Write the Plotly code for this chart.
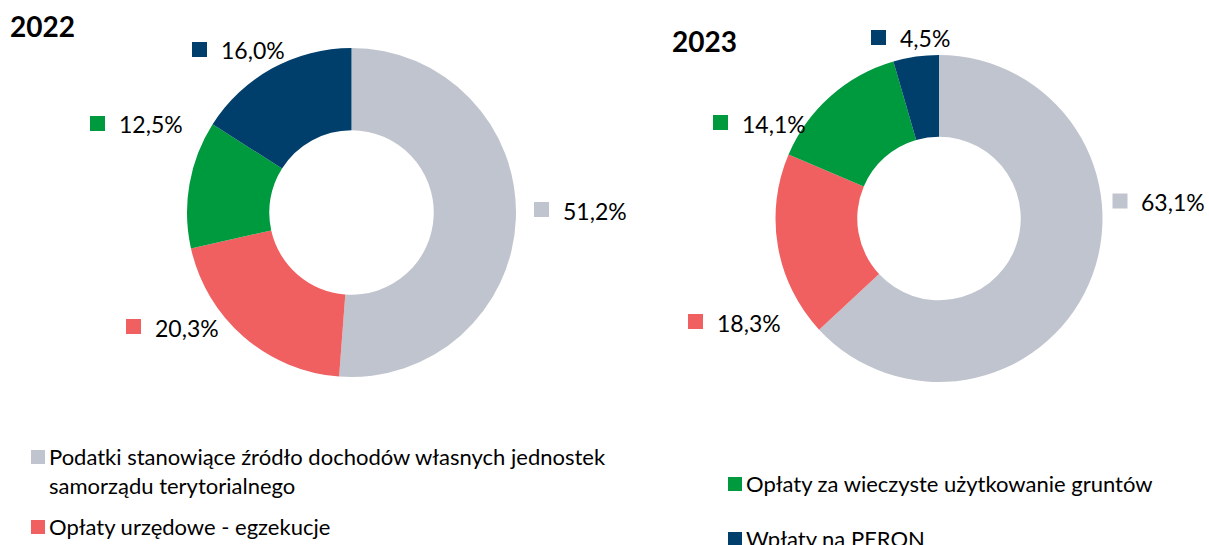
import plotly.graph_objects as go

# ---- data ----
categories = [
    "Podatki stanowiące źródło dochodów własnych jednostek samorządu terytorialnego",
    "Opłaty urzędowe - egzekucje",
    "Opłaty za wieczyste użytkowanie gruntów",
    "Wpłaty na PERON",
]
legend_labels = [
    "Podatki stanowiące źródło dochodów własnych jednostek<br>samorządu terytorialnego",
    "Opłaty urzędowe - egzekucje",
    "Opłaty za wieczyste użytkowanie gruntów",
    "Wpłaty na PERON",
]
years = ["2022", "2023"]
values_2022 = [51.2, 20.3, 12.5, 16.0]
values_2023 = [63.1, 18.3, 14.1, 4.5]

# ---- styles / layout ----
colors = ["#C0C4CE", "#F06060", "#009A3E", "#003F6B"]
W, H = 1209, 545
FONT = "Lato"

def px(x):
    return x / W

def py(y):
    return 1 - y / H

# pie placement (pixel centres and radius)
pie_geo = [(351.5, 212.5, 164.5), (939, 218.5, 163.5)]
# label square centres per pie, per category
label_pos = [
    [(541.5, 209.5), (133.5, 326.5), (97.5, 123.5), (199.5, 49.5)],
    [(1120, 201), (695.5, 321.5), (720.5, 122.5), (878.5, 37.5)],
]
title_pos = [(8, 26), (670, 41)]
legend_pos = [(38, 457), (38, 527), (735, 484), (735, 539)]

fig = go.Figure()
for (cx, cy, r), vals in zip(pie_geo, [values_2022, values_2023]):
    fig.add_trace(go.Pie(
        labels=categories,
        values=vals,
        hole=0.5,
        sort=False,
        direction="clockwise",
        rotation=0,
        marker=dict(colors=colors, line=dict(width=0)),
        textinfo="none",
        hoverinfo="label+percent",
        showlegend=False,
        domain=dict(x=[px(cx - r), px(cx + r)], y=[py(cy + r), py(cy - r)]),
    ))

annotations = []
shapes = []

def square(x, y, color, half=7.5):
    shapes.append(dict(
        type="rect", xref="paper", yref="paper",
        xsizemode="pixel", ysizemode="pixel",
        xanchor=px(x), yanchor=py(y),
        x0=-half, x1=half, y0=-half, y1=half,
        fillcolor=color, line=dict(width=0), layer="above",
    ))

for vals, positions in zip([values_2022, values_2023], label_pos):
    for v, (sx, sy), c in zip(vals, positions, colors):
        square(sx, sy, c)
        annotations.append(dict(
            x=px(sx + 19), y=py(sy + 1), xref="paper", yref="paper",
            xanchor="left", yanchor="middle", showarrow=False,
            text=f"{v:.1f}".replace(".", ",") + "%",
            font=dict(family=FONT, size=23, color="#000000"),
        ))

for yr, (tx, ty) in zip(years, title_pos):
    annotations.append(dict(
        x=px(tx), y=py(ty), xref="paper", yref="paper",
        xanchor="left", yanchor="middle", showarrow=False,
        text=f"<b>{yr}</b>",
        font=dict(family=FONT, size=28, color="#000000"),
    ))

for lab, (lx, ly), c in zip(legend_labels, legend_pos, colors):
    square(lx, ly, c, half=7)
    annotations.append(dict(
        x=px(lx + 9), y=py(ly - 16), xref="paper", yref="paper",
        xanchor="left", yanchor="top", align="left", showarrow=False,
        text=lab,
        font=dict(family=FONT, size=22, color="#000000"),
    ))

fig.update_layout(
    width=W, height=H,
    margin=dict(l=0, r=0, t=0, b=0),
    paper_bgcolor="white", plot_bgcolor="white",
    annotations=annotations, shapes=shapes,
    font=dict(family=FONT),
)

fig.write_html(
    "out.html",
    config={"displayModeBar": False},
    post_script="document.body.style.margin='0';document.body.style.padding='0';document.body.style.overflow='hidden';",
)
